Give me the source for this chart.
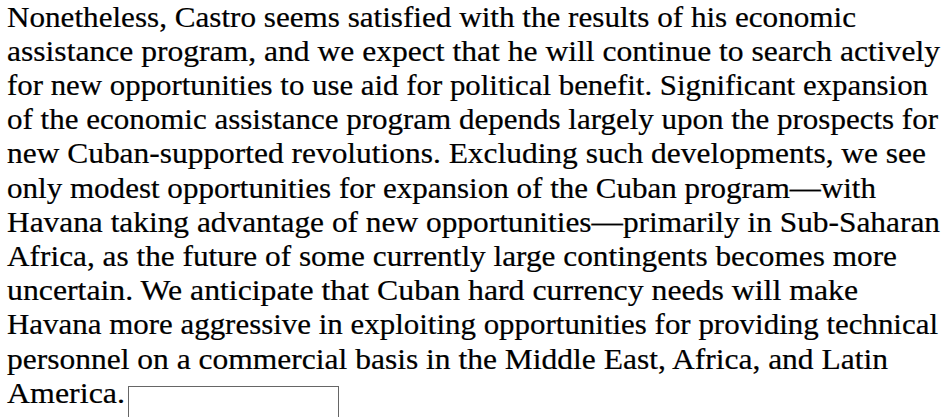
<!DOCTYPE html>
<html><head><meta charset="utf-8">
<script src="https://cdn.jsdelivr.net/npm/chart.js@4"></script>
<style>
html,body{margin:0;padding:0;background:#fff;width:951px;height:417px;overflow:hidden;}
#page{position:relative;width:951px;height:417px;}
.ln{position:absolute;white-space:pre;font-family:"Liberation Serif","Times New Roman",serif;font-size:28.5px;color:#000;transform-origin:0 0;line-height:1;-webkit-text-stroke:0.2px #000;}
#box{position:absolute;border:1px solid #666;box-sizing:border-box;}
</style></head><body><div id="page"></div>
<script>
const lines = [
"Nonetheless, Castro seems satisfied with the results of his economic",
"assistance program, and we expect that he will continue to search actively",
"for new opportunities to use aid for political benefit. Significant expansion",
"of the economic assistance program depends largely upon the prospects for",
"new Cuban-supported revolutions. Excluding such developments, we see",
"only modest opportunities for expansion of the Cuban program\u2014with",
"Havana taking advantage of new opportunities\u2014primarily in Sub-Saharan",
"Africa, as the future of some currently large contingents becomes more",
"uncertain. We anticipate that Cuban hard currency needs will make",
"Havana more aggressive in exploiting opportunities for providing technical",
"personnel on a commercial basis in the Middle East, Africa, and Latin",
"America."
];
// approximate right ends of each printed line
const lineEnds = [856, 940, 928, 938, 926, 876, 940, 897, 858, 938, 888, 125];
const page = document.getElementById('page');
const left = 7, firstBaseline = 29, pitch = 34.2, fs = 28.5;
lines.forEach((t,i)=>{
  const d=document.createElement('div');d.className='ln';d.textContent=t;
  page.appendChild(d);
  const w=d.getBoundingClientRect().width;
  const s=(lineEnds[i]-left)/w;
  d.style.left=left+'px';
  d.style.top=(firstBaseline+i*pitch-0.891*fs)+'px';
  d.style.transform='scaleX('+s+')';
});
const b=document.createElement('div');b.id='box';
b.style.left='128px';b.style.top='386px';b.style.width='211px';b.style.height='40px';
page.appendChild(b);
</script></body></html>
